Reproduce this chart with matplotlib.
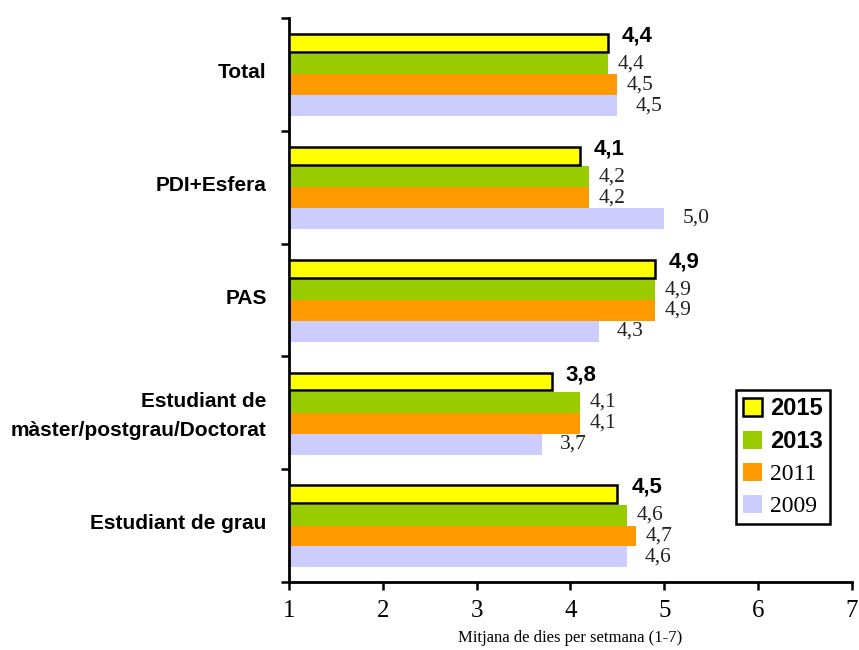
import matplotlib
matplotlib.use("Agg")
import matplotlib.pyplot as plt
import matplotlib.transforms as mtransforms
import numpy as np

# Dies d'activitat per col·lectiu i any
categories = ["Total", "PDI+Esfera", "PAS",
              "Estudiant de\nmàster/postgrau/Doctorat", "Estudiant de grau"]
years = ["2015", "2013", "2011", "2009"]
v2015 = [4.4, 4.1, 4.9, 3.8, 4.5]
v2013 = [4.4, 4.2, 4.9, 4.1, 4.6]
v2011 = [4.5, 4.2, 4.9, 4.1, 4.7]
v2009 = [4.5, 5.0, 4.3, 3.7, 4.6]
series = [v2015, v2013, v2011, v2009]

colors = ["#FFFF00", "#99CC00", "#FF9900", "#CCCCFF"]
SANS = "Liberation Sans"
SERIF = "Liberation Serif"

fig = plt.figure(figsize=(8.59, 6.5), dpi=100)
ax = fig.add_axes([0.3364, 0.1046, 0.6554, 0.8677])

h = 0.185
y = np.arange(len(categories))
# label offsets (points right of bar end, points up) per series
lab_off = [(10, 5), (7, 0), (7, 0), (13, 0)]

for k, (vals, col, yr) in enumerate(zip(series, colors, years)):
    pos = y + (k - 1.5) * h
    base = np.ones(len(vals))
    widths = np.array(vals) - 1
    if k == 0:
        ax.barh(pos, widths, left=base, height=h * 0.85, color=col,
                edgecolor="black", linewidth=1.8, label=yr, zorder=3)
    else:
        ax.barh(pos, widths, left=base, height=h, color=col,
                edgecolor="none", label=yr, zorder=2)
    for p, v in zip(pos, vals):
        txt = f"{v:.1f}".replace(".", ",")
        if k == 0:
            ax.annotate(txt, (v, p), xytext=lab_off[k], textcoords="offset points",
                        ha="left", va="center", fontsize=16, fontweight="bold",
                        family=SANS)
        else:
            ax.annotate(txt, (v, p), xytext=lab_off[k], textcoords="offset points",
                        ha="left", va="center", fontsize=15.5, family=SERIF,
                        color="#222222")

ax.set_xlim(1, 7)
ax.set_ylim(len(categories) - 0.5, -0.5)
ax.set_xticks(range(1, 8))
ax.set_xticklabels([str(i) for i in range(1, 8)], family=SERIF, fontsize=18)
ax.set_xlabel("Mitjana de dies per setmana (1-7)", family=SERIF, fontsize=12,
              labelpad=6)

# group boundaries as ticks, category names as minor labels
ax.set_yticks(np.arange(-0.5, len(categories), 1.0))
ax.set_yticklabels([])
ax.set_yticks(y, minor=True)
ax.set_yticklabels(categories, minor=True, family=SANS, fontsize=15,
                   fontweight="bold", ha="right", multialignment="right",
                   linespacing=1.65)
ax.tick_params(axis="y", which="minor", length=0, pad=16)
ax.tick_params(axis="y", which="major", length=6, width=1.8, direction="out")
ax.tick_params(axis="x", length=6, width=1.8, direction="out", pad=7)

# nudge the category names up a little
shift = mtransforms.ScaledTranslation(0, 4 / 100, fig.dpi_scale_trans)
for lbl in ax.get_yticklabels(minor=True):
    lbl.set_transform(lbl.get_transform() + shift)

for s in ("top", "right"):
    ax.spines[s].set_visible(False)
for s in ("left", "bottom"):
    ax.spines[s].set_linewidth(2)

handles, labels = ax.get_legend_handles_labels()
leg = fig.legend(handles, labels, loc="upper left",
                 bbox_to_anchor=(0.857, 0.40), bbox_transform=fig.transFigure,
                 borderaxespad=0, frameon=True, fancybox=False, framealpha=1,
                 borderpad=0.3, handlelength=0.8, handleheight=0.8,
                 handletextpad=0.35, labelspacing=0.42, fontsize=17)
leg.get_frame().set_edgecolor("black")
leg.get_frame().set_linewidth(1.8)
for i, t in enumerate(leg.get_texts()):
    if i < 2:
        t.set_family(SANS)
        t.set_fontweight("bold")
    else:
        t.set_family(SERIF)

fig.savefig("out.png", dpi=100)
